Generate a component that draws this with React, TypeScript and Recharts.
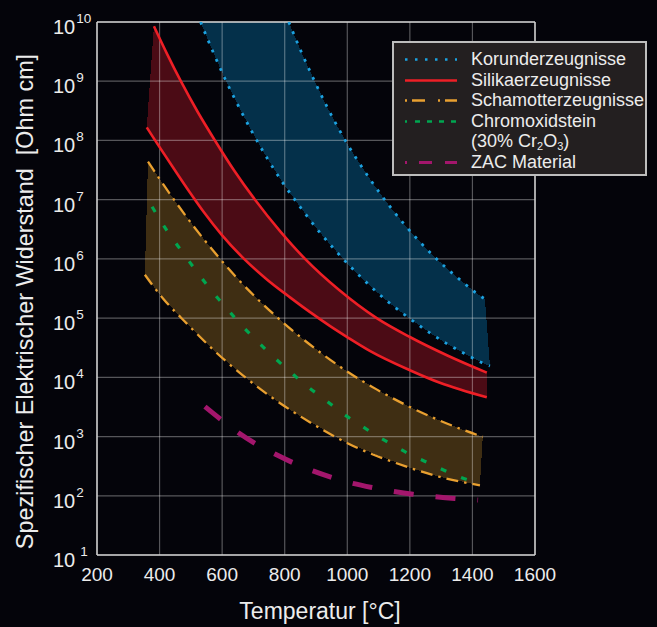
import React from "react";
import {
  ComposedChart,
  Area,
  Line,
  XAxis,
  YAxis,
  CartesianGrid,
  ReferenceLine,
  Label,
} from "recharts";

const FONT = "'Liberation Sans', Arial, Helvetica, sans-serif";
const BG = "#04040a";
const TEXT = "#ececec";

// x ticks (°C) and y ticks (Ohm cm, log)
const tempTicks = [200, 400, 600, 800, 1000, 1200, 1400, 1600];
const resTicks = [1e1, 1e2, 1e3, 1e4, 1e5, 1e6, 1e7, 1e8, 1e9, 1e10];

// Korunderzeugnisse (upper and lower limit)
const korundUpperT = [813, 854, 894, 936, 967, 999, 1034, 1066, 1104, 1143, 1184, 1222, 1270, 1318, 1366, 1414, 1440];
const korundUpper = [1.0e10, 3.04e9, 1.04e9, 3.64e8, 1.78e8, 8.9e7, 4.5e7, 2.5e7, 1.29e7, 6.9e6, 3.74e6, 2.21e6, 1.2e6, 6.9e5, 4.2e5, 2.6e5, 2.1e5];
const korundLowerT = [531, 570, 609, 651, 696, 745, 797, 853, 912, 954, 999, 1044, 1088, 1136, 1187, 1267, 1322, 1379, 1433, 1456];
const korundLower = [1.0e10, 3.2e9, 1.1e9, 3.9e8, 1.38e8, 4.9e7, 1.82e7, 7.1e6, 2.8e6, 1.55e6, 8.5e5, 4.9e5, 2.95e5, 1.78e5, 1.1e5, 5.5e4, 3.6e4, 2.45e4, 1.74e4, 1.55e4];

// Silikaerzeugnisse
const silikaUpperT = [382, 425, 468, 522, 577, 640, 705, 785, 865, 975, 1094, 1200, 1320, 1446];
const silikaUpper = [8.5e9, 2.82e9, 1.0e9, 3.02e8, 1.0e8, 3.02e7, 1.0e7, 2.95e6, 1.0e6, 2.95e5, 1.0e5, 4.8e4, 2.34e4, 1.2e4];
const silikaLowerT = [359, 391, 440, 497, 540, 600, 670, 743, 817, 881, 944, 1002, 1072, 1200, 1296, 1446];
const silikaLower = [1.66e8, 9.1e7, 3.7e7, 1.32e7, 6.3e6, 2.5e6, 1.0e6, 4.5e5, 2.24e5, 1.26e5, 7.4e4, 4.7e4, 2.8e4, 1.32e4, 8.1e3, 4.6e3];

// Schamotterzeugnisse
const schamotteUpperT = [363, 401, 456, 513, 571, 635, 705, 794, 849, 922, 1002, 1095, 1200, 1296, 1360, 1433];
const schamotteUpper = [4.4e7, 2.2e7, 8.45e6, 3.33e6, 1.38e6, 5.6e5, 2.31e5, 8.5e4, 4.85e4, 2.44e4, 1.23e4, 6.2e3, 3.16e3, 1.86e3, 1.36e3, 990];
const schamotteLowerT = [353, 392, 411, 488, 571, 666, 762, 849, 999, 1200, 1296, 1424];
const schamotteLower = [5.4e5, 2.86e5, 2.15e5, 8.0e4, 2.94e4, 1.08e4, 4.45e3, 2.21e3, 780, 297, 208, 150];

// Chromoxidstein (30% Cr2O3)
const chromT = [376, 420, 468, 520, 564, 615, 666, 718, 769, 823, 874, 929, 983, 1037, 1092, 1146, 1200, 1254, 1309, 1363, 1418];
const chrom = [7.6e6, 3.2e6, 1.41e6, 6.0e5, 3.0e5, 1.45e5, 7.2e4, 3.8e4, 2.1e4, 1.17e4, 6.9e3, 4.2e3, 2.5e3, 1.62e3, 1.05e3, 720, 500, 370, 270, 205, 162];

// ZAC Material
const zacT = [545, 593, 651, 705, 769, 826, 890, 951, 1018, 1079, 1146, 1210, 1280, 1344, 1418];
const zac = [3.2e3, 2.0e3, 1.17e3, 767, 507, 363, 263, 204, 162, 138, 119, 106, 96.6, 90.2, 85.1];

const C_KORUND = "#1ca2e0";
const C_SILIKA = "#ee1f26";
const C_SCHAM = "#e9a030";
const C_CHROM = "#00a650";
const C_ZAC = "#a3166c";

type Pt = { t: number; v: number };
const toPts = (ts: number[], vs: number[]): Pt[] => ts.map((t, i) => ({ t, v: vs[i] }));
// outline of a band: lower start, upper curve, lower end
const bandTop = (upT: number[], up: number[], loT: number[], lo: number[]): Pt[] => [
  { t: loT[0], v: lo[0] },
  ...toPts(upT, up),
  { t: loT[loT.length - 1], v: lo[lo.length - 1] },
];

const bands = [
  { key: "korund", top: bandTop(korundUpperT, korundUpper, korundLowerT, korundLower), low: toPts(korundLowerT, korundLower), fill: "#04304a" },
  { key: "silika", top: bandTop(silikaUpperT, silikaUpper, silikaLowerT, silikaLower), low: toPts(silikaLowerT, silikaLower), fill: "#4b0b15" },
  { key: "scham", top: bandTop(schamotteUpperT, schamotteUpper, schamotteLowerT, schamotteLower), low: toPts(schamotteLowerT, schamotteLower), fill: "#3f2e13" },
];

const curves = [
  { key: "kU", data: toPts(korundUpperT, korundUpper), color: C_KORUND, w: 2.8, dash: "2.8 7.2" },
  { key: "kL", data: toPts(korundLowerT, korundLower), color: C_KORUND, w: 2.8, dash: "2.8 7.2" },
  { key: "sU", data: toPts(silikaUpperT, silikaUpper), color: C_SILIKA, w: 2.6, dash: undefined },
  { key: "sL", data: toPts(silikaLowerT, silikaLower), color: C_SILIKA, w: 2.6, dash: undefined },
  { key: "chU", data: toPts(schamotteUpperT, schamotteUpper), color: C_SCHAM, w: 2.3, dash: "12 6 2.5 6" },
  { key: "chL", data: toPts(schamotteLowerT, schamotteLower), color: C_SCHAM, w: 2.3, dash: "12 6 2.5 6" },
  { key: "cr", data: toPts(chromT, chrom), color: C_CHROM, w: 3.2, dash: "6 16" },
  { key: "zac", data: toPts(zacT, zac), color: C_ZAC, w: 5, dash: "20 22" },
];

const YTick = (props: any) => {
  const { x, y, payload } = props;
  const exp = Math.round(Math.log10(payload.value));
  return (
    <text x={x - 44} y={y + 12} fill={TEXT} fontSize={20} fontFamily={FONT}>
      10
      <tspan dx={exp === 1 ? 5 : 1} dy={-11} fontSize={13.5}>
        {exp}
      </tspan>
    </text>
  );
};

const XTick = (props: any) => {
  const { x, y, payload } = props;
  return (
    <text x={x} y={y + 26} fill={TEXT} fontSize={19} fontFamily={FONT} textAnchor="middle">
      {payload.value}
    </text>
  );
};

const legendRows = [
  { label: "Korunderzeugnisse", color: C_KORUND, w: 2.5, dash: "2.5 7.5" },
  { label: "Silikaerzeugnisse", color: C_SILIKA, w: 2.5, dash: undefined },
  { label: "Schamotterzeugnisse", color: C_SCHAM, w: 2.5, dash: "2 5 13 13" },
  { label: "Chromoxidstein", color: C_CHROM, w: 2.5, dash: "2 8 5 7 5 7 5 7 5 7" },
  { label: "", color: "none", w: 0, dash: undefined },
  { label: "ZAC Material", color: C_ZAC, w: 3, dash: "2 12 13 13 13" },
];

function ChartLegend() {
  return (
    <div
      style={{
        position: "absolute",
        left: 392,
        top: 41,
        width: 251,
        height: 125,
        background: "#231f20",
        border: "2px solid #bdbdbd",
        paddingTop: 6,
        boxSizing: "content-box",
        fontFamily: FONT,
        fontSize: 18,
        color: TEXT,
      }}
    >
      {legendRows.map((r, i) => (
        <div key={i} style={{ position: "relative", height: 20.6, lineHeight: "20.6px", whiteSpace: "nowrap" }}>
          <svg width={60} height={20} style={{ position: "absolute", left: 9, top: 0 }}>
            {r.w > 0 && (
              <line x1={2} x2={54} y1={10.5} y2={10.5} stroke={r.color} strokeWidth={r.w} strokeDasharray={r.dash} />
            )}
          </svg>
          <span style={{ position: "absolute", left: 77, top: 0 }}>
            {i === 4 ? (
              <>
                (30% Cr<span style={{ fontSize: 11, verticalAlign: -3 }}>2</span>O
                <span style={{ fontSize: 11, verticalAlign: -3 }}>3</span>)
              </>
            ) : (
              r.label
            )}
          </span>
        </div>
      ))}
    </div>
  );
}

export default function App() {
  return (
    <div style={{ position: "absolute", left: 0, top: 0, width: 657, height: 627, background: BG, overflow: "hidden" }}>
      <ComposedChart width={657} height={627} margin={{ top: 22, right: 122, bottom: 42, left: 37 }}>
        {bands.map((b) => [
          <Area
            key={b.key + "-top"}
            data={b.top}
            dataKey="v"
            type="linear"
            stroke="none"
            fill={b.fill}
            fillOpacity={1}
            shapeRendering="crispEdges"
            baseValue="dataMin"
            isAnimationActive={false}
            dot={false}
            activeDot={false}
          />,
          <Area
            key={b.key + "-low"}
            data={b.low}
            dataKey="v"
            type="linear"
            stroke="none"
            fill={BG}
            fillOpacity={1}
            shapeRendering="crispEdges"
            baseValue="dataMin"
            isAnimationActive={false}
            dot={false}
            activeDot={false}
          />,
        ])}
        <CartesianGrid stroke="rgba(255,255,255,0.33)" strokeWidth={1.2} zIndex={150} />
        <ReferenceLine y={1e10} stroke="#cfcfcf" strokeWidth={1.5} />
        <ReferenceLine x={1600} stroke="#cfcfcf" strokeWidth={1.5} />
        <XAxis
          dataKey="t"
          type="number"
          domain={[200, 1600]}
          ticks={tempTicks}
          allowDataOverflow
          height={30}
          tickSize={0}
          tickMargin={0}
          tickLine={false}
          axisLine={{ stroke: "#cfcfcf", strokeWidth: 1.5 }}
          tick={<XTick />}
        >
          <Label
            content={({ viewBox }: any) => (
              <text
                x={viewBox.x + viewBox.width / 2 + 4}
                y={viewBox.y + 64}
                fill={TEXT}
                fontSize={23}
                fontFamily={FONT}
                textAnchor="middle"
              >
                Temperatur [°C]
              </text>
            )}
          />
        </XAxis>
        <YAxis
          type="number"
          scale="log"
          domain={[10, 1e10]}
          ticks={resTicks}
          allowDataOverflow
          width={60}
          tickSize={0}
          tickMargin={0}
          tickLine={false}
          axisLine={{ stroke: "#cfcfcf", strokeWidth: 1.5 }}
          tick={<YTick />}
        >
          <Label
            content={({ viewBox }: any) => {
              const cx = viewBox.x - 4;
              const cy = viewBox.y + viewBox.height / 2 + 13;
              return (
                <text
                  x={cx}
                  y={cy}
                  transform={`rotate(-90, ${cx}, ${cy})`}
                  fill={TEXT}
                  fontSize={23.4}
                  fontFamily={FONT}
                  textAnchor="middle"
                  style={{ whiteSpace: "pre" }}
                >
                  {"Spezifischer Elektrischer Widerstand  [Ohm cm]"}
                </text>
              );
            }}
          />
        </YAxis>
        {curves.map((c) => (
          <Line
            key={c.key}
            data={c.data}
            dataKey="v"
            type="monotone"
            stroke={c.color}
            strokeWidth={c.w}
            strokeDasharray={c.dash}
            dot={false}
            activeDot={false}
            isAnimationActive={false}
          />
        ))}
      </ComposedChart>
      <ChartLegend />
    </div>
  );
}
